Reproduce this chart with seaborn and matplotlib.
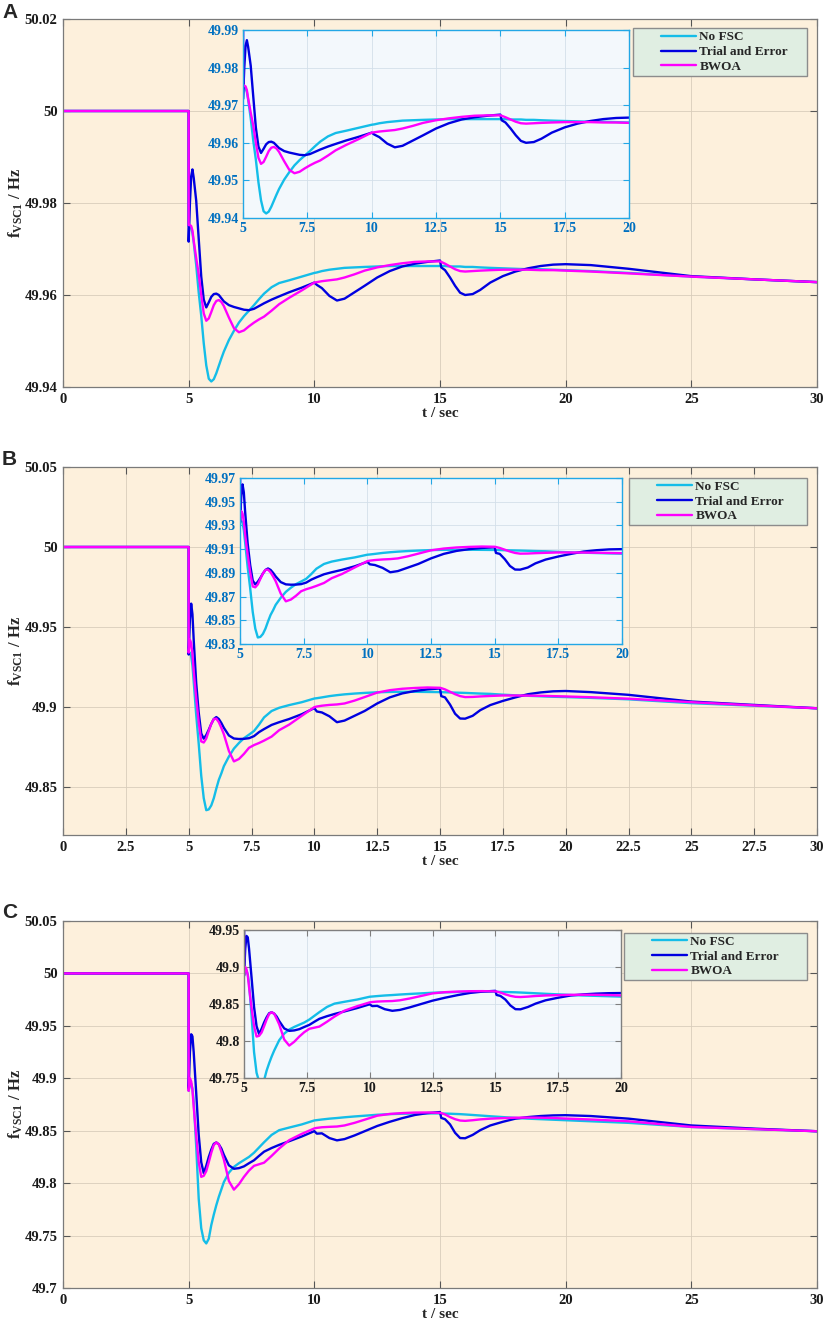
import matplotlib
matplotlib.use("Agg")
import matplotlib.pyplot as plt
from matplotlib.patches import Rectangle
from matplotlib.ticker import FuncFormatter
import pandas as pd
import seaborn as sns

# ---- data (shared time grid, seconds) ----
TIME = [0, 5.0, 5.0, 5.05, 5.1, 5.15, 5.2, 5.3, 5.4, 5.5,
        5.6, 5.7, 5.8, 5.9, 6.0, 6.1, 6.2, 6.3, 6.4, 6.6,
        6.8, 7.0, 7.2, 7.4, 7.6, 7.8, 8.0, 8.3, 8.6, 9.0,
        9.5, 10.0, 10.1, 10.3, 10.6, 10.9, 11.2, 11.6, 12.0, 12.5,
        13.0, 13.5, 14.0, 14.5, 15.0, 15.05, 15.2, 15.4, 15.6, 15.8,
        16.0, 16.3, 16.6, 17.0, 17.5, 18.0, 18.5, 19.0, 19.5, 20.0,
        21.0, 22.5, 25.0, 27.5, 30.0]

METHODS = ["No FSC", "Trial and Error", "BWOA"]
COLORS = ["#14bde8", "#0000e0", "#ff00ff"]

A_NOFSC = [50, 50, 49.9750, 49.9749, 49.9745, 49.9735, 49.9715, 49.9665, 49.9605, 49.9555,
           49.9495, 49.9447, 49.9418, 49.9412, 49.9417, 49.9430, 49.9446, 49.9462, 49.9477, 49.9502,
           49.9522, 49.9540, 49.9554, 49.9566, 49.9578, 49.9591, 49.9603, 49.9617, 49.9626, 49.9632,
           49.9640, 49.9648, 49.9649, 49.9652, 49.9655, 49.9657, 49.9659, 49.9660, 49.9661, 49.9662,
           49.9663, 49.9663, 49.9663, 49.9663, 49.9663, 49.9663, 49.9663, 49.9662, 49.9662, 49.9662,
           49.9661, 49.9661, 49.9660, 49.9659, 49.9658, 49.9657, 49.9656, 49.9656, 49.9655, 49.9654,
           49.9652, 49.9648, 49.9640, 49.9634, 49.9628]
A_TRIAL = [50, 50, 49.9716, 49.9800, 49.9858, 49.9873, 49.9855, 49.9805, 49.9722, 49.9640,
           49.9590, 49.9573, 49.9584, 49.9596, 49.9602, 49.9603, 49.9600, 49.9593, 49.9586, 49.9578,
           49.9574, 49.9571, 49.9568, 49.9567, 49.9570, 49.9576, 49.9582, 49.9590, 49.9597, 49.9606,
           49.9616, 49.9627, 49.9622, 49.9615, 49.9598, 49.9588, 49.9592, 49.9606, 49.9620, 49.9638,
           49.9652, 49.9662, 49.9668, 49.9672, 49.9675, 49.9660, 49.9654, 49.9638, 49.9620, 49.9605,
           49.9600, 49.9602, 49.9611, 49.9627, 49.9641, 49.9651, 49.9658, 49.9663, 49.9666, 49.9667,
           49.9665, 49.9657, 49.9641, 49.9634, 49.9628]
A_BWOA = [50, 50, 49.9752, 49.9752, 49.9750, 49.9740, 49.9718, 49.9680, 49.9645, 49.9600,
          49.9560, 49.9544, 49.9549, 49.9563, 49.9578, 49.9587, 49.9589, 49.9585, 49.9576, 49.9551,
          49.9528, 49.9519, 49.9523, 49.9532, 49.9540, 49.9547, 49.9553, 49.9566, 49.9580, 49.9594,
          49.9610, 49.9627, 49.9628, 49.9630, 49.9632, 49.9634, 49.9638, 49.9645, 49.9653, 49.9660,
          49.9665, 49.9669, 49.9672, 49.9673, 49.9673, 49.9672, 49.9668, 49.9662, 49.9656, 49.9652,
          49.9651, 49.9652, 49.9653, 49.9654, 49.9655, 49.9655, 49.9655, 49.9654, 49.9654, 49.9653,
          49.9651, 49.9647, 49.9640, 49.9634, 49.9628]

B_NOFSC = [50, 50, 49.934, 49.934, 49.932, 49.926, 49.916, 49.895, 49.877, 49.857,
           49.843, 49.8355, 49.8360, 49.8385, 49.8430, 49.8490, 49.8545, 49.8585, 49.8630, 49.8690,
           49.8740, 49.8775, 49.8805, 49.8827, 49.8850, 49.8890, 49.8935, 49.8975, 49.8995, 49.9012,
           49.9030, 49.9053, 49.9055, 49.9060, 49.9068, 49.9074, 49.9079, 49.9084, 49.9088, 49.9092,
           49.9094, 49.9095, 49.9095, 49.9094, 49.9093, 49.9093, 49.9092, 49.9091, 49.9090, 49.9089,
           49.9088, 49.9086, 49.9084, 49.9082, 49.9077, 49.9073, 49.9070, 49.9067, 49.9064, 49.9062,
           49.9057, 49.9048, 49.9024, 49.9008, 49.8992]
B_TRIAL = [50, 50, 49.9328, 49.9550, 49.9646, 49.9580, 49.9420, 49.9150, 49.8965, 49.8835,
           49.8802, 49.8825, 49.8858, 49.8895, 49.8925, 49.8937, 49.8925, 49.8900, 49.8870, 49.8822,
           49.8803, 49.8800, 49.8801, 49.8805, 49.8818, 49.8843, 49.8862, 49.8888, 49.8905, 49.8925,
           49.8955, 49.8993, 49.8972, 49.8966, 49.8942, 49.8905, 49.8915, 49.8945, 49.8975, 49.9022,
           49.9060, 49.9085, 49.9100, 49.9110, 49.9116, 49.9068, 49.9060, 49.9015, 49.8958, 49.8928,
           49.8927, 49.8945, 49.8980, 49.9012, 49.9038, 49.9060, 49.9080, 49.9091, 49.9098, 49.9100,
           49.9093, 49.9076, 49.9034, 49.9013, 49.8992]
B_BWOA = [50, 50, 49.934, 49.9420, 49.9400, 49.9330, 49.9225, 49.9055, 49.8905, 49.8785,
          49.8778, 49.8803, 49.8850, 49.8895, 49.8925, 49.8927, 49.8905, 49.8870, 49.8830, 49.8725,
          49.8660, 49.8675, 49.8707, 49.8745, 49.8762, 49.8775, 49.8790, 49.8815, 49.8855, 49.8890,
          49.8945, 49.8999, 49.9003, 49.9008, 49.9013, 49.9016, 49.9022, 49.9040, 49.9062, 49.9090,
          49.9105, 49.9114, 49.9119, 49.9122, 49.9120, 49.9118, 49.9110, 49.9095, 49.9080, 49.9068,
          49.9062, 49.9063, 49.9066, 49.9069, 49.9072, 49.9072, 49.9071, 49.9070, 49.9068, 49.9066,
          49.9061, 49.9052, 49.9030, 49.9010, 49.8992]

C_NOFSC = [50, 50, 49.888, 49.893, 49.895, 49.890, 49.878, 49.835, 49.785, 49.757,
           49.7455, 49.7425, 49.7470, 49.7600, 49.7700, 49.7790, 49.7870, 49.7940, 49.8010, 49.8100,
           49.8155, 49.8190, 49.8220, 49.8250, 49.8290, 49.8340, 49.8390, 49.8460, 49.8505, 49.8530,
           49.8560, 49.8598, 49.8601, 49.8607, 49.8615, 49.8621, 49.8628, 49.8636, 49.8643, 49.8652,
           49.8658, 49.8662, 49.8664, 49.8665, 49.8665, 49.8664, 49.8663, 49.8662, 49.8660, 49.8658,
           49.8655, 49.8650, 49.8645, 49.8638, 49.8630, 49.8622, 49.8615, 49.8610, 49.8605, 49.8600,
           49.8590, 49.8575, 49.8536, 49.8515, 49.8495]
C_TRIAL = [50, 50, 49.890, 49.925, 49.9420, 49.9400, 49.9250, 49.8860, 49.8460, 49.8200,
           49.8095, 49.8165, 49.8250, 49.8320, 49.8375, 49.8388, 49.8370, 49.8330, 49.8270, 49.8170,
           49.8137, 49.8143, 49.8160, 49.8190, 49.8218, 49.8260, 49.8300, 49.8335, 49.8365, 49.8400,
           49.8445, 49.8496, 49.8472, 49.8475, 49.8430, 49.8408, 49.8420, 49.8455, 49.8495, 49.8545,
           49.8585, 49.8620, 49.8650, 49.8668, 49.8678, 49.8622, 49.8610, 49.8560, 49.8480, 49.8430,
           49.8428, 49.8460, 49.8505, 49.8550, 49.8585, 49.8615, 49.8630, 49.8640, 49.8646, 49.8648,
           49.8640, 49.8615, 49.8550, 49.8520, 49.8495]
C_BWOA = [50, 50, 49.888, 49.900, 49.897, 49.889, 49.873, 49.845, 49.820, 49.806,
          49.8070, 49.8115, 49.8200, 49.8290, 49.8365, 49.8388, 49.8370, 49.8300, 49.8225, 49.8020,
          49.7938, 49.7990, 49.8060, 49.8120, 49.8165, 49.8180, 49.8195, 49.8260, 49.8330, 49.8410,
          49.8470, 49.8522, 49.8527, 49.8533, 49.8537, 49.8540, 49.8550, 49.8575, 49.8605, 49.8643,
          49.8660, 49.8668, 49.8673, 49.8674, 49.8670, 49.8668, 49.8655, 49.8630, 49.8610, 49.8597,
          49.8594, 49.8600, 49.8608, 49.8615, 49.8620, 49.8624, 49.8625, 49.8624, 49.8621, 49.8616,
          49.8607, 49.8590, 49.8536, 49.8515, 49.8495]

# tick values
A_YTICKS = [49.94, 49.96, 49.98, 50, 50.02]
B_YTICKS = [49.85, 49.9, 49.95, 50, 50.05]
C_YTICKS = [49.7, 49.75, 49.8, 49.85, 49.9, 49.95, 50, 50.05]
XTICKS_5 = [0, 5, 10, 15, 20, 25, 30]
XTICKS_25 = [0, 2.5, 5, 7.5, 10, 12.5, 15, 17.5, 20, 22.5, 25, 27.5, 30]
INSET_XTICKS = [5, 7.5, 10, 12.5, 15, 17.5, 20]
A_INSET_YTICKS = [49.94, 49.95, 49.96, 49.97, 49.98, 49.99]
B_INSET_YTICKS = [49.83, 49.85, 49.87, 49.89, 49.91, 49.93, 49.95, 49.97]
C_INSET_YTICKS = [49.75, 49.8, 49.85, 49.9, 49.95]

for s in [A_NOFSC, A_TRIAL, A_BWOA, B_NOFSC, B_TRIAL, B_BWOA, C_NOFSC, C_TRIAL, C_BWOA]:
    assert len(s) == len(TIME)

# ---- style ----
W, H = 823, 1323
MAIN_BG = "#fdf0dc"
INSET_BG = "#f3f8fc"
LEG_BG = "#e0eee2"
PALETTE = dict(zip(METHODS, COLORS))

sns.set_theme(style="ticks")
plt.rcParams["font.family"] = ["Liberation Serif", "DejaVu Serif"]
plt.rcParams["font.weight"] = "bold"
plt.rcParams["mathtext.fontset"] = "custom"
plt.rcParams["mathtext.rm"] = "Liberation Serif:bold"
plt.rcParams["mathtext.it"] = "Liberation Serif:bold"
plt.rcParams["mathtext.bf"] = "Liberation Serif:bold"


def box(l, t, r, b):
    return [l / W, 1 - b / H, (r - l) / W, (b - t) / H]


fmt = FuncFormatter(lambda v, _: f"{v:g}")


def draw_curves(ax, nofsc, trial, bwoa):
    df = pd.DataFrame({
        "t": TIME * 3,
        "f": nofsc + trial + bwoa,
        "method": [m for m in METHODS for _ in TIME],
    })
    sns.lineplot(data=df, x="t", y="f", hue="method", palette=PALETTE,
                 estimator=None, sort=False, linewidth=1.7, legend=False, ax=ax)
    ax.set_xlabel("")
    ax.set_ylabel("")


panels = [
    ("A", A_NOFSC, A_TRIAL, A_BWOA, (49.94, 50.02), A_YTICKS, XTICKS_5,
     (49.94, 49.99), A_INSET_YTICKS, "#0070c0", "#22a7e6",
     (63, 19, 817, 387), (243, 30, 629, 218), (633, 28, 807, 76), 3),
    ("B", B_NOFSC, B_TRIAL, B_BWOA, (49.82, 50.05), B_YTICKS, XTICKS_25,
     (49.83, 49.97), B_INSET_YTICKS, "#0070c0", "#22a7e6",
     (63, 467, 817, 835), (240, 478, 622, 644), (629, 478, 807, 525), 450),
    ("C", C_NOFSC, C_TRIAL, C_BWOA, (49.70, 50.05), C_YTICKS, XTICKS_5,
     (49.75, 49.95), C_INSET_YTICKS, "#1a1a1a", "#7f7f7f",
     (63, 921, 817, 1288), (244, 930, 621, 1078), (624, 933, 807, 980), 903),
]

fig = plt.figure(figsize=(W / 100, H / 100), dpi=100)
fig.patch.set_facecolor("white")

for (letter, nofsc, trial, bwoa, ylim, yticks, xticks, iylim, iyticks, icol, iedge,
     mbox, ibox, lbox, ly) in panels:
    # main axes
    ax = fig.add_axes(box(*mbox))
    ax.set_facecolor(MAIN_BG)
    draw_curves(ax, nofsc, trial, bwoa)
    ax.set_xlim(0, 30)
    ax.set_ylim(*ylim)
    ax.set_xticks(xticks)
    ax.set_yticks(yticks)
    ax.xaxis.set_major_formatter(fmt)
    ax.yaxis.set_major_formatter(fmt)
    ax.grid(True, color="#d9cdbb", linewidth=0.6)
    for sp in ax.spines.values():
        sp.set_color("#7a7a7a")
        sp.set_linewidth(0.9)
    ax.tick_params(direction="in", top=True, right=True, length=5, width=0.8,
                   color="#555555", labelsize=10.5, labelcolor="#1a1a1a", pad=4)
    ax.set_xlabel("t / sec", fontsize=11, fontweight="bold", labelpad=1)
    ax.set_ylabel(r"$\mathrm{f}_{\mathrm{VSC1}}$ / Hz", fontsize=12, fontweight="bold")
    ax.yaxis.set_label_coords(-0.05, 0.5)

    # zoomed inset
    iax = fig.add_axes(box(*ibox))
    iax.set_facecolor(INSET_BG)
    draw_curves(iax, nofsc, trial, bwoa)
    iax.set_xlim(5, 20)
    iax.set_ylim(*iylim)
    iax.set_xticks(INSET_XTICKS)
    iax.set_yticks(iyticks)
    iax.xaxis.set_major_formatter(fmt)
    iax.yaxis.set_major_formatter(fmt)
    iax.grid(True, color="#d3dfea", linewidth=0.6)
    for sp in iax.spines.values():
        sp.set_color(iedge)
        sp.set_linewidth(1.0)
    iax.tick_params(direction="in", top=True, right=True, length=4, width=0.8,
                    color=iedge, labelsize=10, labelcolor=icol, pad=3)

    # legend box
    l, t, r, b = lbox
    fig.add_artist(Rectangle((l / W, 1 - b / H), (r - l) / W, (b - t) / H,
                             transform=fig.transFigure, facecolor=LEG_BG,
                             edgecolor="#8c8c8c", linewidth=1.0))
    fig.legend(handles=ax.lines[:3], labels=METHODS, loc="center left",
               bbox_to_anchor=((l + 28) / W, 1 - ((t + b) / 2) / H),
               frameon=False, fontsize=9.5, handlelength=2.65, handletextpad=0.25,
               labelspacing=0.2, borderpad=0, borderaxespad=0)

    fig.text(2 / W, 1 - ly / H, letter, fontsize=15, fontweight="bold",
             family=["Liberation Sans", "DejaVu Sans"], ha="left", va="top")

fig.savefig("out.png", dpi=100)
plt.close(fig)
